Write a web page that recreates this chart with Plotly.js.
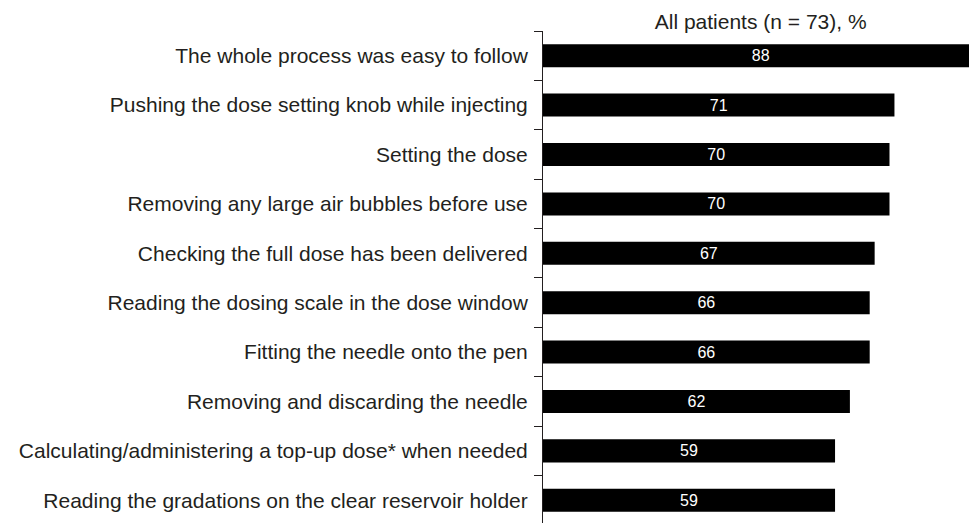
<!DOCTYPE html>
<html>
<head>
<meta charset="utf-8">
<script src="https://cdn.plot.ly/plotly-3.0.1.min.js"></script>
<style>html,body{margin:0;padding:0;background:#fff;}#chart{width:969px;height:523px;}</style>
</head>
<body>
<div id="chart"></div>
<script>
const categories = [
  "The whole process was easy to follow",
  "Pushing the dose setting knob while injecting",
  "Setting the dose",
  "Removing any large air bubbles before use",
  "Checking the full dose has been delivered",
  "Reading the dosing scale in the dose window",
  "Fitting the needle onto the pen",
  "Removing and discarding the needle",
  "Calculating/administering a top-up dose* when needed",
  "Reading the gradations on the clear reservoir holder"
];
const values = [88, 71, 70, 70, 67, 66, 66, 62, 59, 59];
const titleText = "All patients (n = 73), %";

const textColor = "#231f20";
const fam = "Liberation Sans, Arial, sans-serif";

Plotly.newPlot("chart", [{
  type: "bar",
  orientation: "h",
  y: categories,
  x: values,
  text: values.map(String),
  textposition: "inside",
  insidetextanchor: "middle",
  constraintext: "none",
  textangle: 0,
  textfont: {family: fam, size: 16, color: "#ffffff"},
  marker: {color: "#000000", line: {width: 0}},
  hoverinfo: "none",
  cliponaxis: true
}], {
  width: 969,
  height: 523,
  margin: {l: 543, r: 0, t: 31, b: 0, pad: 0},
  paper_bgcolor: "#ffffff",
  plot_bgcolor: "#ffffff",
  bargap: 0.534,
  showlegend: false,
  font: {family: fam, size: 21, color: textColor},
  title: {
    text: titleText,
    font: {family: fam, size: 21, color: textColor},
    x: 0.785, xanchor: "center", xref: "container",
    y: 0.958, yanchor: "middle", yref: "container"
  },
  xaxis: {
    visible: false,
    range: [0, 86.06],
    fixedrange: true
  },
  yaxis: {
    type: "category",
    categoryorder: "array",
    categoryarray: categories,
    range: [9.46, -0.5],
    showline: true,
    linecolor: textColor,
    linewidth: 1,
    ticks: "outside",
    tickson: "boundaries",
    ticklen: 8,
    tickwidth: 1,
    tickcolor: textColor,
    ticklabelstandoff: 10,
    showgrid: false,
    zeroline: false,
    tickfont: {family: fam, size: 21, color: textColor},
    fixedrange: true
  }
}, {displayModeBar: false, staticPlot: true});
</script>
</body>
</html>
